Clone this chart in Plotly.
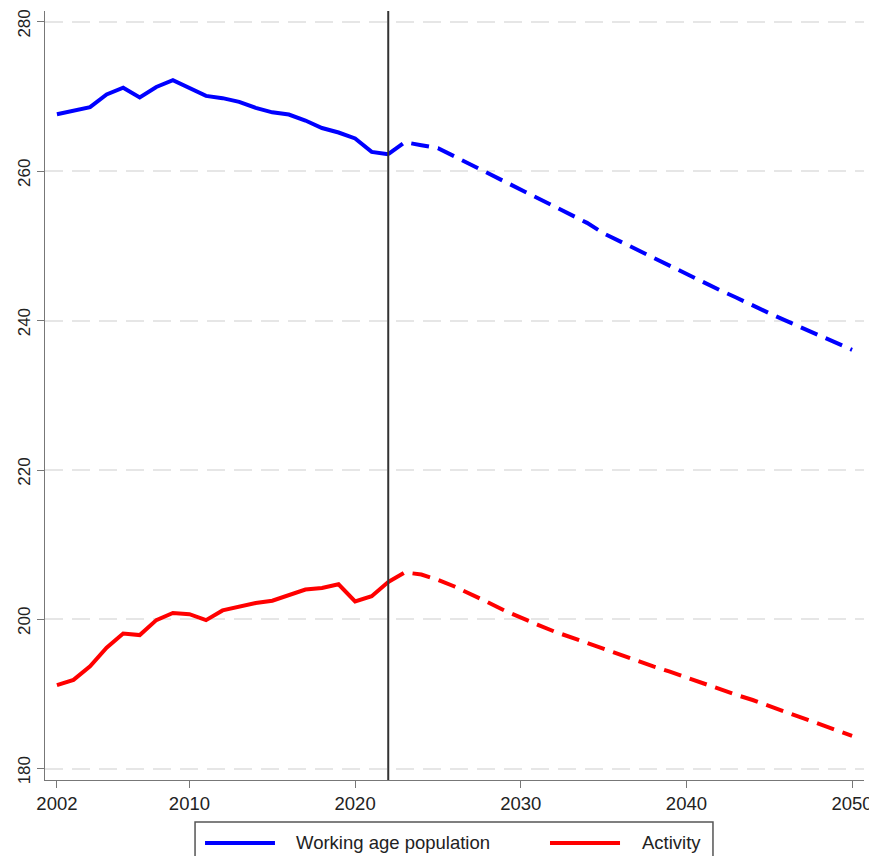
import plotly.graph_objects as go

years_hist = list(range(2002, 2023))
years_proj = list(range(2022, 2051))

wap_hist = [267.65, 268.1, 268.6, 270.3, 271.2, 269.9, 271.3, 272.2, 271.1, 270.1,
            269.8, 269.3, 268.5, 267.9, 267.6, 266.8, 265.8, 265.2, 264.4, 262.6, 262.3]
wap_proj = [262.3, 263.9, 263.5, 263.1, 262.0, 260.9, 259.7, 258.6, 257.5, 256.4,
            255.3, 254.2, 253.1, 251.7, 250.6, 249.5, 248.4, 247.3, 246.2, 245.2,
            244.1, 243.1, 242.0, 241.0, 240.0, 239.0, 238.0, 237.1, 236.1]

act_hist = [191.2, 191.9, 193.7, 196.2, 198.1, 197.9, 199.9, 200.85, 200.7, 199.9,
            201.2, 201.7, 202.2, 202.5, 203.3, 204.0, 204.2, 204.7, 202.4, 203.1, 205.0]
act_proj = [205.0, 206.3, 206.0, 205.3, 204.4, 203.4, 202.3, 201.2, 200.2, 199.3,
            198.4, 197.6, 196.8, 196.0, 195.3, 194.5, 193.7, 193.0, 192.2, 191.4,
            190.7, 189.9, 189.2, 188.4, 187.6, 186.8, 186.0, 185.2, 184.4]

series_names = ["Working age population", "Activity"]
x_ticks = [2002, 2010, 2020, 2030, 2040, 2050]
y_ticks = [180, 200, 220, 240, 260, 280]
split_year = 2022

BLUE = "#0000ff"
RED = "#ff0000"
FONT = "Liberation Sans, Arial, Helvetica, sans-serif"
DASH = "18px,9px"

fig = go.Figure()
fig.add_trace(go.Scatter(x=years_hist, y=wap_hist, mode="lines", name=series_names[0],
                         line=dict(color=BLUE, width=4)))
fig.add_trace(go.Scatter(x=years_proj, y=wap_proj, mode="lines", name=series_names[0],
                         line=dict(color=BLUE, width=4, dash=DASH)))
fig.add_trace(go.Scatter(x=years_hist, y=act_hist, mode="lines", name=series_names[1],
                         line=dict(color=RED, width=4)))
fig.add_trace(go.Scatter(x=years_proj, y=act_proj, mode="lines", name=series_names[1],
                         line=dict(color=RED, width=4, dash=DASH)))

fig.add_vline(x=split_year, line=dict(color="#333333", width=2))

# Legend box (drawn manually to match the original layout)
leg_y = -0.0819
fig.add_shape(type="rect", xref="paper", yref="paper", x0=0.1832, x1=0.8156,
              y0=-0.125, y1=-0.0546, line=dict(color="#555555", width=1.5),
              fillcolor="white", layer="above")
fig.add_shape(type="line", xref="paper", yref="paper", x0=0.1954, x1=0.2808,
              y0=leg_y, y1=leg_y, line=dict(color=BLUE, width=4))
fig.add_shape(type="line", xref="paper", yref="paper", x0=0.6166, x1=0.7021,
              y0=leg_y, y1=leg_y, line=dict(color=RED, width=4))
fig.add_annotation(xref="paper", yref="paper", x=0.3040, y=leg_y, text=series_names[0],
                   showarrow=False, xanchor="left", yanchor="middle",
                   font=dict(size=18.5, color="#222222", family=FONT))
fig.add_annotation(xref="paper", yref="paper", x=0.7265, y=leg_y, text=series_names[1],
                   showarrow=False, xanchor="left", yanchor="middle",
                   font=dict(size=18.5, color="#222222", family=FONT))

fig.update_layout(
    width=869, height=848,
    margin=dict(l=37, r=13, t=3, b=76, autoexpand=False),
    paper_bgcolor="white", plot_bgcolor="white",
    font=dict(family=FONT, size=18.5, color="#222222"),
    showlegend=False,
    xaxis=dict(range=[2001.28, 2050.72], tickvals=x_ticks, showgrid=False, zeroline=False,
               showline=True, linecolor="#777777", linewidth=1.3, ticks="outside",
               ticklen=7, tickcolor="#777777", tickwidth=1.3, ticklabeloverflow="allow"),
    yaxis=dict(range=[178.49, 281.47], tickvals=y_ticks, tickangle=-90, showgrid=True,
               gridcolor="#e6e6e6", griddash="18px,9px", gridwidth=1.5, zeroline=False,
               showline=True, linecolor="#777777", linewidth=1.3, ticks="outside",
               ticklen=7, tickcolor="#777777", tickwidth=1.3, ticklabeloverflow="allow",
               ticklabelshift=4, tickfont=dict(size=17)),
)

fig.write_html("out.html")
